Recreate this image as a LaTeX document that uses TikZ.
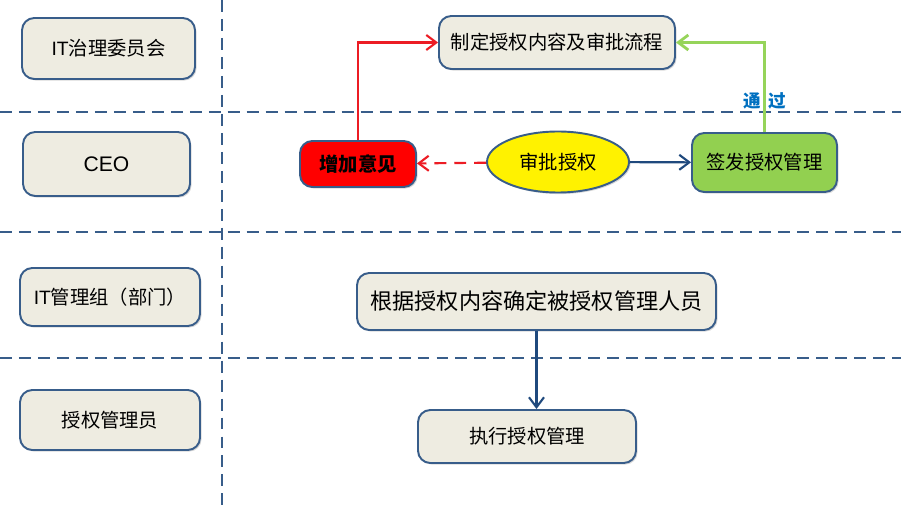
\documentclass[tikz,border=0pt]{standalone}
\usepackage{fontspec}
\setmainfont{Liberation Sans}
\newfontfamily\cjk{Noto Sans CJK SC}
\usepackage{tikz}
\usetikzlibrary{positioning, arrows.meta, shadows, shapes.geometric}
\definecolor{rahmen}{RGB}{56,93,138}
\definecolor{papier}{RGB}{238,236,225}
\definecolor{pfeilblau}{RGB}{31,73,125}
\definecolor{hellgruen}{RGB}{146,208,80}
\definecolor{pfeilgruen}{RGB}{150,212,90}
\definecolor{textblau}{RGB}{0,112,192}
\definecolor{rot}{RGB}{236,28,36}
\tikzset{
    rolebox/.style  = {draw=rahmen, line width=1.1pt, rounded corners=7pt, fill=papier,
                       align=center, inner sep=3pt, font=\cjk\fontsize{11}{13}\selectfont,
                       drop shadow={shadow xshift=0.9pt, shadow yshift=-0.9pt, opacity=0.3}},
    stepbox/.style  = {rolebox},
    lane/.style     = {draw=rahmen, line width=1.6pt, dash pattern=on 6.8pt off 4pt},
    flow/.style     = {-{Straight Barb[length=2mm, width=3mm]}, line width=1.2pt, draw=pfeilblau},
    redflow/.style  = {flow, draw=rot},
    greenflow/.style= {flow, draw=pfeilgruen, line width=1.6pt},
    passlabel/.style= {font=\cjk\bfseries\fontsize{10}{12}\selectfont, text=textblau, inner sep=1pt}
}
\begin{document}
\begin{tikzpicture}[x=1cm, y=1cm]
    \useasboundingbox (0,0) rectangle (18.02,-10.14);

    % --- Bahnen ---
    \draw[lane] (4.44,0) -- (4.44,-10.14);
    \foreach \y in {-2.24,-4.64,-7.16}
        \draw[lane] (0,\y) -- (18.02,\y);

    % --- Rollen ---
    \node[rolebox, minimum width=3.46cm, minimum height=1.22cm] (gov)    at (2.17,-0.97) {{\rmfamily IT}治理委员会};
    \node[rolebox, minimum width=3.34cm, minimum height=1.28cm] (ceo)    at (2.13,-3.28) {\rmfamily\fontsize{12}{14}\selectfont CEO};
    \node[rolebox, minimum width=3.60cm, minimum height=1.16cm] (itgrp)  at (2.20,-5.94) {{\rmfamily IT}管理组（部门）};
    \node[rolebox, minimum width=3.60cm, minimum height=1.20cm] (admin)  at (2.20,-8.40) {授权管理员};

    % --- Ablauf ---
    \node[stepbox, minimum width=4.72cm, minimum height=1.06cm] (define) at (11.14,-0.85) {制定授权内容及审批流程};
    \node[stepbox, fill=red, minimum width=2.32cm, minimum height=0.92cm,
          font=\cjk\bfseries\fontsize{11}{13}\selectfont]        (addop)  at (7.16,-3.28)  {增加意见};
    \node[ellipse, draw=rahmen, line width=1.1pt, fill=yellow, minimum width=2.84cm,
          minimum height=1.22cm, font=\cjk\fontsize{11}{13}\selectfont,
          drop shadow={shadow xshift=0.9pt, shadow yshift=-0.9pt, opacity=0.3}] (approve) at (11.16,-3.24) {审批授权};
    \node[stepbox, fill=hellgruen, minimum width=2.90cm, minimum height=1.18cm] (issue) at (15.29,-3.25) {签发授权管理};
    \node[stepbox, minimum width=7.18cm, minimum height=1.14cm,
          font=\cjk\fontsize{12.6}{15}\selectfont]                (determ) at (10.73,-6.03) {根据授权内容确定被授权管理人员};
    \node[stepbox, minimum width=4.36cm, minimum height=1.06cm] (exec)   at (10.54,-8.73) {执行授权管理};

    \draw[flow] (approve) -- (issue);
    \draw[redflow, dash pattern=on 6.8pt off 4.5pt] (approve) -- (addop);
    \draw[redflow] (addop.north) |- (define.west);
    \draw[greenflow] (issue.north) |- (define.east);
    \node[passlabel] (pass) at (15.30,-2.02) {通\hspace{0.45em}过};
    \draw[flow] (determ.south) -- (determ.south |- exec.north);
\end{tikzpicture}
\end{document}
